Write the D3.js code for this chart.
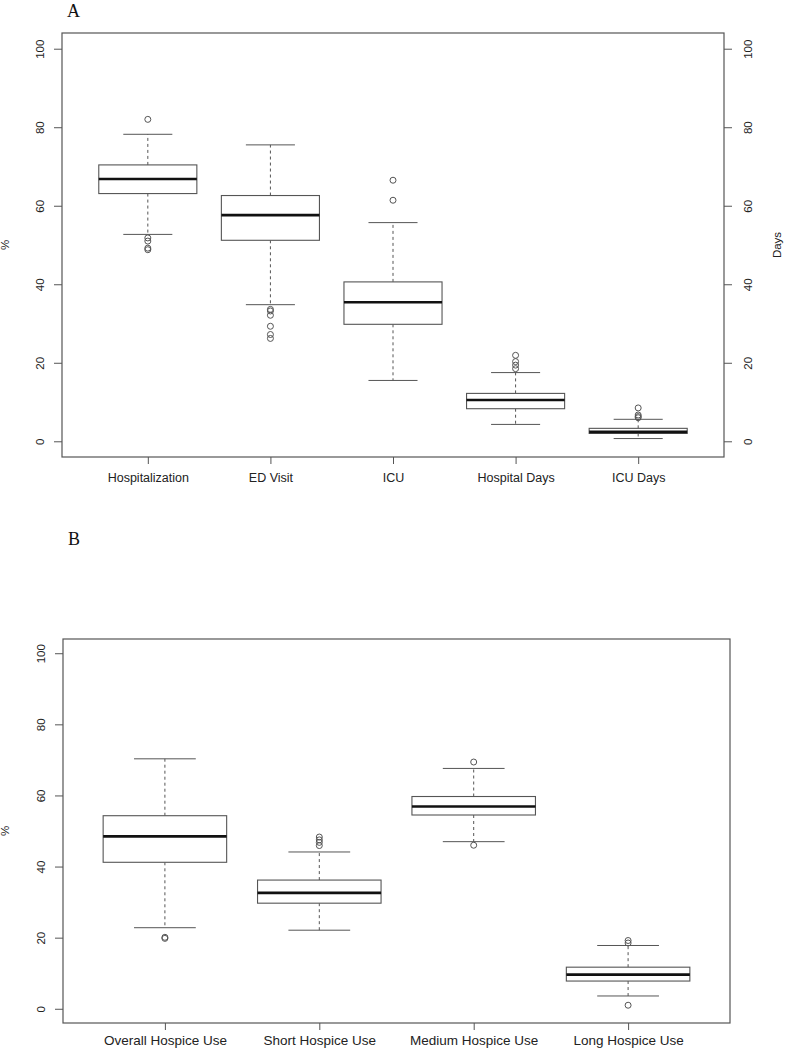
<!DOCTYPE html>
<html><head><meta charset="utf-8">
<script src="https://cdn.jsdelivr.net/npm/d3@7"></script>
<style>body{margin:0;background:#fff}svg{display:block}</style>
</head><body>
<script>
const catsA = ["Hospitalization","ED Visit","ICU","Hospital Days","ICU Days"];
const lowA  = [52.7, 34.8, 15.5, 4.3, 0.7];
const q1A   = [63.1, 51.2, 29.8, 8.3, 2.0];
const medA  = [66.8, 57.6, 35.4, 10.5, 2.4];
const q3A   = [70.4, 62.6, 40.6, 12.2, 3.3];
const highA = [78.2, 75.5, 55.7, 17.5, 5.6];
const outA  = [[82.0, 51.8, 51.0, 49.2, 48.8],[33.6, 33.2, 32.1, 29.3, 27.2, 26.2],[66.5, 61.4],[21.9, 20.3, 19.4, 18.5],[8.5, 6.7, 6.3, 6.0]];

const catsB = ["Overall Hospice Use","Short Hospice Use","Medium Hospice Use","Long Hospice Use"];
const lowB  = [22.8, 22.1, 47.0, 3.6];
const q1B   = [41.2, 29.7, 54.5, 7.8];
const medB  = [48.5, 32.6, 56.9, 9.6];
const q3B   = [54.3, 36.2, 59.7, 11.7];
const highB = [70.3, 44.1, 67.6, 17.8];
const outB  = [[20.1, 19.8],[48.3, 47.5, 46.8, 45.9],[69.4, 46.0],[19.2, 18.5, 1.0]];

const yTicks = [0, 20, 40, 60, 80, 100];

const W = 787, H = 1050;
const svg = d3.select("body").append("svg").attr("width", W).attr("height", H);
const axisCol = "#555", textCol = "#222";
const sans = "Liberation Sans, Arial, sans-serif";

function panel(o) {
  const {cats, low, q1, med, q3, high, outs, left, right, top, bottom, letter, letterY, rightAxis, labFont, labY} = o;
  const n = cats.length;
  const x = d3.scaleLinear().domain([0.5 - 0.04 * n, n + 0.5 + 0.04 * n]).range([left, right]);
  const y = d3.scaleLinear().domain([-4, 104]).range([bottom, top]);
  const g = svg.append("g");
  const unit = x(1) - x(0);

  g.append("rect").attr("x", left).attr("y", top).attr("width", right - left).attr("height", bottom - top)
    .attr("fill", "none").attr("stroke", axisCol).attr("stroke-width", 1.2);

  const ya = g.append("g").attr("transform", `translate(${left},0)`)
    .call(d3.axisLeft(y).tickValues(yTicks).tickSize(8).tickPadding(0).tickFormat(d3.format("d")));
  ya.select(".domain").remove();
  ya.selectAll("line").attr("stroke", axisCol);
  ya.selectAll("text").attr("fill", textCol).style("font-family", sans).style("font-size", "11.5px")
    .attr("text-anchor", "middle").attr("dy", null)
    .attr("transform", `translate(-22,0) rotate(-90)`).attr("x", 0).attr("y", 4);

  if (rightAxis) {
    const ra = g.append("g").attr("transform", `translate(${right},0)`)
      .call(d3.axisRight(y).tickValues(yTicks).tickSize(8).tickPadding(0).tickFormat(d3.format("d")));
    ra.select(".domain").remove();
    ra.selectAll("line").attr("stroke", axisCol);
    ra.selectAll("text").attr("fill", textCol).style("font-family", sans).style("font-size", "11.5px")
      .attr("text-anchor", "middle").attr("dy", null)
      .attr("transform", `translate(24,0) rotate(-90)`).attr("x", 0).attr("y", 4);
    g.append("text").attr("transform", `translate(${right + 57},${y(50)}) rotate(-90)`)
      .attr("text-anchor", "middle").attr("fill", textCol)
      .style("font-family", sans).style("font-size", "11.5px").text("Days");
  }

  const xa = g.append("g").attr("transform", `translate(0,${bottom})`)
    .call(d3.axisBottom(x).tickValues(d3.range(1, n + 1)).tickSize(7).tickFormat((d) => cats[d - 1]));
  xa.select(".domain").remove();
  xa.selectAll("line").attr("stroke", axisCol);
  xa.selectAll("text").attr("fill", textCol).style("font-family", sans).style("font-size", labFont)
    .attr("dy", null).attr("y", labY);

  g.append("text").attr("transform", `translate(9,${y(50)}) rotate(-90)`).attr("text-anchor", "middle")
    .attr("fill", textCol).style("font-family", sans).style("font-size", "11.5px").text("%");

  g.append("text").attr("x", left + 5).attr("y", letterY).attr("fill", "#111")
    .style("font-family", "Liberation Serif, Times New Roman, serif").style("font-size", "18px").text(letter);

  const idx = d3.range(n);
  const bw = 0.4 * unit, cw = 0.2 * unit;
  const bx = g.selectAll(".bx").data(idx).join("g");
  bx.append("line").attr("x1", i => x(i + 1)).attr("x2", i => x(i + 1)).attr("y1", i => y(q3[i])).attr("y2", i => y(high[i]))
    .attr("stroke", axisCol).attr("stroke-dasharray", "3,3");
  bx.append("line").attr("x1", i => x(i + 1)).attr("x2", i => x(i + 1)).attr("y1", i => y(q1[i])).attr("y2", i => y(low[i]))
    .attr("stroke", axisCol).attr("stroke-dasharray", "3,3");
  bx.append("line").attr("x1", i => x(i + 1) - cw).attr("x2", i => x(i + 1) + cw).attr("y1", i => y(high[i])).attr("y2", i => y(high[i]))
    .attr("stroke", axisCol);
  bx.append("line").attr("x1", i => x(i + 1) - cw).attr("x2", i => x(i + 1) + cw).attr("y1", i => y(low[i])).attr("y2", i => y(low[i]))
    .attr("stroke", axisCol);
  bx.append("rect").attr("x", i => x(i + 1) - bw).attr("width", 2 * bw).attr("y", i => y(q3[i])).attr("height", i => y(q1[i]) - y(q3[i]))
    .attr("fill", "#fff").attr("stroke", axisCol).attr("stroke-width", 1.1);
  bx.append("line").attr("x1", i => x(i + 1) - bw).attr("x2", i => x(i + 1) + bw).attr("y1", i => y(med[i])).attr("y2", i => y(med[i]))
    .attr("stroke", "#111").attr("stroke-width", 2.6);
  bx.selectAll("circle").data(i => outs[i].map(v => ({i, v}))).join("circle")
    .attr("cx", d => x(d.i + 1)).attr("cy", d => y(d.v)).attr("r", 3)
    .attr("fill", "none").attr("stroke", axisCol).attr("stroke-width", 1);
}

panel({cats: catsA, low: lowA, q1: q1A, med: medA, q3: q3A, high: highA, outs: outA,
  left: 62, right: 724, top: 33, bottom: 457, letter: "A", letterY: 17, rightAxis: true, labFont: "12.5px", labY: 25});
panel({cats: catsB, low: lowB, q1: q1B, med: medB, q3: q3B, high: highB, outs: outB,
  left: 63, right: 730, top: 639, bottom: 1023, letter: "B", letterY: 545, rightAxis: false, labFont: "13.5px", labY: 22});
</script>
</body></html>
